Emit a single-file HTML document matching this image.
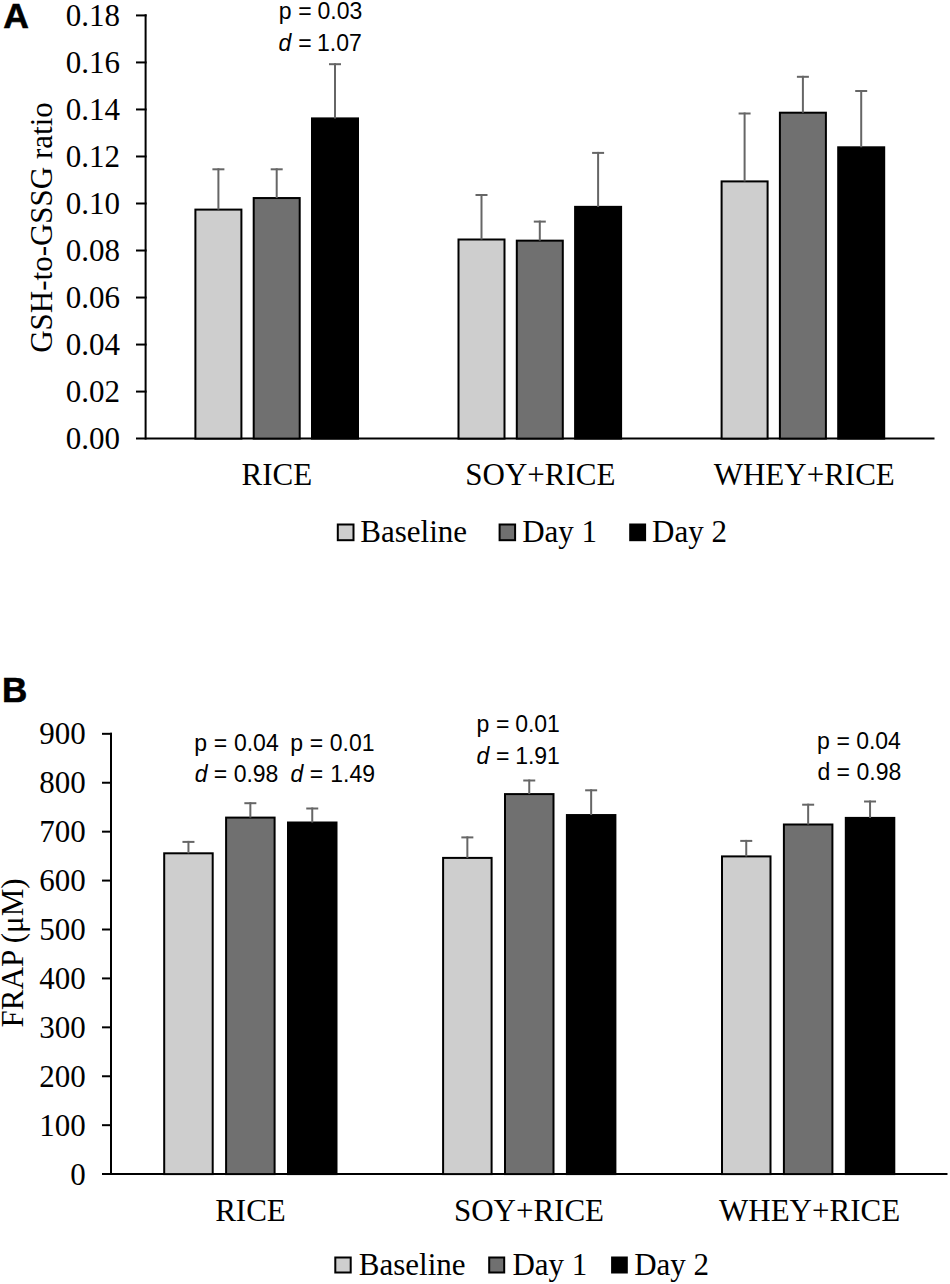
<!DOCTYPE html>
<html><head><meta charset="utf-8"><title>GSH and FRAP chart</title>
<style>
html,body{margin:0;padding:0;background:#fff;}
body{width:950px;height:1284px;overflow:hidden;font-family:"Liberation Serif",serif;}
svg{display:block;}
</style></head><body>
<svg width="950" height="1284" viewBox="0 0 950 1284">
<rect width="950" height="1284" fill="#fff"/>
<line x1="145.6" y1="14.3" x2="145.6" y2="439.60" stroke="#000" stroke-width="2"/>
<line x1="136" y1="438.60" x2="934.5" y2="438.60" stroke="#000" stroke-width="2"/>
<text x="120.10" y="449.00" font-family="Liberation Serif" font-size="31" text-anchor="end" >0.00</text>
<line x1="136" y1="391.58" x2="146.6" y2="391.58" stroke="#000" stroke-width="2"/>
<text x="120.10" y="401.98" font-family="Liberation Serif" font-size="31" text-anchor="end" >0.02</text>
<line x1="136" y1="344.56" x2="146.6" y2="344.56" stroke="#000" stroke-width="2"/>
<text x="120.10" y="354.96" font-family="Liberation Serif" font-size="31" text-anchor="end" >0.04</text>
<line x1="136" y1="297.54" x2="146.6" y2="297.54" stroke="#000" stroke-width="2"/>
<text x="120.10" y="307.94" font-family="Liberation Serif" font-size="31" text-anchor="end" >0.06</text>
<line x1="136" y1="250.52" x2="146.6" y2="250.52" stroke="#000" stroke-width="2"/>
<text x="120.10" y="260.92" font-family="Liberation Serif" font-size="31" text-anchor="end" >0.08</text>
<line x1="136" y1="203.50" x2="146.6" y2="203.50" stroke="#000" stroke-width="2"/>
<text x="120.10" y="213.90" font-family="Liberation Serif" font-size="31" text-anchor="end" >0.10</text>
<line x1="136" y1="156.48" x2="146.6" y2="156.48" stroke="#000" stroke-width="2"/>
<text x="120.10" y="166.88" font-family="Liberation Serif" font-size="31" text-anchor="end" >0.12</text>
<line x1="136" y1="109.46" x2="146.6" y2="109.46" stroke="#000" stroke-width="2"/>
<text x="120.10" y="119.86" font-family="Liberation Serif" font-size="31" text-anchor="end" >0.14</text>
<line x1="136" y1="62.44" x2="146.6" y2="62.44" stroke="#000" stroke-width="2"/>
<text x="120.10" y="72.84" font-family="Liberation Serif" font-size="31" text-anchor="end" >0.16</text>
<line x1="136" y1="15.42" x2="146.6" y2="15.42" stroke="#000" stroke-width="2"/>
<text x="120.10" y="25.82" font-family="Liberation Serif" font-size="31" text-anchor="end" >0.18</text>
<rect x="195.40" y="209.60" width="46.00" height="229.00" fill="#cecece" stroke="#000" stroke-width="2"/>
<rect x="253.70" y="198.05" width="46.00" height="240.55" fill="#707070" stroke="#000" stroke-width="2"/>
<rect x="312.00" y="118.40" width="46.00" height="320.20" fill="#000000" stroke="#000" stroke-width="2"/>
<line x1="218.40" y1="209.60" x2="218.40" y2="168.30" stroke="#666666" stroke-width="2"/>
<line x1="212.40" y1="169.30" x2="224.40" y2="169.30" stroke="#666666" stroke-width="2"/>
<line x1="276.70" y1="198.05" x2="276.70" y2="168.30" stroke="#666666" stroke-width="2"/>
<line x1="270.70" y1="169.30" x2="282.70" y2="169.30" stroke="#666666" stroke-width="2"/>
<line x1="335.00" y1="118.40" x2="335.00" y2="63.20" stroke="#666666" stroke-width="2"/>
<line x1="329.00" y1="64.20" x2="341.00" y2="64.20" stroke="#666666" stroke-width="2"/>
<rect x="458.50" y="239.50" width="46.00" height="199.10" fill="#cecece" stroke="#000" stroke-width="2"/>
<rect x="516.80" y="240.65" width="46.00" height="197.95" fill="#707070" stroke="#000" stroke-width="2"/>
<rect x="575.10" y="206.85" width="46.00" height="231.75" fill="#000000" stroke="#000" stroke-width="2"/>
<line x1="481.50" y1="239.50" x2="481.50" y2="194.00" stroke="#666666" stroke-width="2"/>
<line x1="475.50" y1="195.00" x2="487.50" y2="195.00" stroke="#666666" stroke-width="2"/>
<line x1="539.80" y1="240.65" x2="539.80" y2="220.60" stroke="#666666" stroke-width="2"/>
<line x1="533.80" y1="221.60" x2="545.80" y2="221.60" stroke="#666666" stroke-width="2"/>
<line x1="598.10" y1="206.85" x2="598.10" y2="151.90" stroke="#666666" stroke-width="2"/>
<line x1="592.10" y1="152.90" x2="604.10" y2="152.90" stroke="#666666" stroke-width="2"/>
<rect x="721.60" y="181.40" width="46.00" height="257.20" fill="#cecece" stroke="#000" stroke-width="2"/>
<rect x="779.90" y="112.70" width="46.00" height="325.90" fill="#707070" stroke="#000" stroke-width="2"/>
<rect x="838.20" y="147.30" width="46.00" height="291.30" fill="#000000" stroke="#000" stroke-width="2"/>
<line x1="744.60" y1="181.40" x2="744.60" y2="112.50" stroke="#666666" stroke-width="2"/>
<line x1="738.60" y1="113.50" x2="750.60" y2="113.50" stroke="#666666" stroke-width="2"/>
<line x1="802.90" y1="112.70" x2="802.90" y2="75.80" stroke="#666666" stroke-width="2"/>
<line x1="796.90" y1="76.80" x2="808.90" y2="76.80" stroke="#666666" stroke-width="2"/>
<line x1="861.20" y1="147.30" x2="861.20" y2="90.00" stroke="#666666" stroke-width="2"/>
<line x1="855.20" y1="91.00" x2="867.20" y2="91.00" stroke="#666666" stroke-width="2"/>
<text x="241.60" y="484.70" font-family="Liberation Serif" font-size="31" text-anchor="start" >RICE</text>
<text x="465.30" y="484.70" font-family="Liberation Serif" font-size="31" text-anchor="start" >SOY+RICE</text>
<text x="713.70" y="484.70" font-family="Liberation Serif" font-size="31" text-anchor="start" >WHEY+RICE</text>
<text transform="translate(51.5,351.8) rotate(-90)" x="-1" y="0" font-family="Liberation Serif" font-size="31">GSH-to-GSSG ratio</text>
<rect x="337.80" y="524.50" width="15.70" height="15.70" fill="#cecece" stroke="#000" stroke-width="2"/>
<rect x="499.60" y="524.50" width="15.50" height="15.70" fill="#707070" stroke="#000" stroke-width="2"/>
<rect x="630.20" y="524.50" width="14.90" height="15.70" fill="#000000" stroke="#000" stroke-width="2"/>
<text x="360.30" y="541.70" font-family="Liberation Serif" font-size="31" text-anchor="start" >Baseline</text>
<text x="522.20" y="541.70" font-family="Liberation Serif" font-size="31" text-anchor="start" >Day 1</text>
<text x="652.00" y="541.70" font-family="Liberation Serif" font-size="31" text-anchor="start" >Day 2</text>
<text x="278.70" y="19.30" font-family="Liberation Sans" font-size="23" text-anchor="start" >p</text>
<text x="304.90" y="19.30" font-family="Liberation Sans" font-size="23" text-anchor="middle" >=</text>
<text x="362.30" y="19.30" font-family="Liberation Sans" font-size="23" text-anchor="end" >0.03</text>
<text x="278.60" y="50.50" font-family="Liberation Sans" font-size="23" text-anchor="start" ><tspan font-style="italic">d</tspan></text>
<text x="304.90" y="50.50" font-family="Liberation Sans" font-size="23" text-anchor="middle" >=</text>
<text x="361.80" y="50.50" font-family="Liberation Sans" font-size="23" text-anchor="end" >1.07</text>
<text x="3.30" y="27.60" font-family="Liberation Sans" font-size="35.5" text-anchor="start" font-weight="bold" stroke="#000" stroke-width="0.6">A</text>
<line x1="111" y1="732.82" x2="111" y2="1175.10" stroke="#000" stroke-width="2"/>
<line x1="102" y1="1174.10" x2="947.5" y2="1174.10" stroke="#000" stroke-width="2"/>
<text x="85.80" y="1184.50" font-family="Liberation Serif" font-size="31" text-anchor="end" >0</text>
<line x1="102" y1="1125.18" x2="112" y2="1125.18" stroke="#000" stroke-width="2"/>
<text x="85.80" y="1135.58" font-family="Liberation Serif" font-size="31" text-anchor="end" >100</text>
<line x1="102" y1="1076.26" x2="112" y2="1076.26" stroke="#000" stroke-width="2"/>
<text x="85.80" y="1086.66" font-family="Liberation Serif" font-size="31" text-anchor="end" >200</text>
<line x1="102" y1="1027.34" x2="112" y2="1027.34" stroke="#000" stroke-width="2"/>
<text x="85.80" y="1037.74" font-family="Liberation Serif" font-size="31" text-anchor="end" >300</text>
<line x1="102" y1="978.42" x2="112" y2="978.42" stroke="#000" stroke-width="2"/>
<text x="85.80" y="988.82" font-family="Liberation Serif" font-size="31" text-anchor="end" >400</text>
<line x1="102" y1="929.50" x2="112" y2="929.50" stroke="#000" stroke-width="2"/>
<text x="85.80" y="939.90" font-family="Liberation Serif" font-size="31" text-anchor="end" >500</text>
<line x1="102" y1="880.58" x2="112" y2="880.58" stroke="#000" stroke-width="2"/>
<text x="85.80" y="890.98" font-family="Liberation Serif" font-size="31" text-anchor="end" >600</text>
<line x1="102" y1="831.66" x2="112" y2="831.66" stroke="#000" stroke-width="2"/>
<text x="85.80" y="842.06" font-family="Liberation Serif" font-size="31" text-anchor="end" >700</text>
<line x1="102" y1="782.74" x2="112" y2="782.74" stroke="#000" stroke-width="2"/>
<text x="85.80" y="793.14" font-family="Liberation Serif" font-size="31" text-anchor="end" >800</text>
<line x1="102" y1="733.82" x2="112" y2="733.82" stroke="#000" stroke-width="2"/>
<text x="85.80" y="744.22" font-family="Liberation Serif" font-size="31" text-anchor="end" >900</text>
<rect x="164.20" y="853.30" width="48.50" height="320.80" fill="#cecece" stroke="#000" stroke-width="2"/>
<rect x="226.10" y="817.60" width="48.50" height="356.50" fill="#707070" stroke="#000" stroke-width="2"/>
<rect x="288.00" y="822.50" width="48.50" height="351.60" fill="#000000" stroke="#000" stroke-width="2"/>
<line x1="188.45" y1="853.30" x2="188.45" y2="840.90" stroke="#666666" stroke-width="2"/>
<line x1="182.45" y1="841.90" x2="194.45" y2="841.90" stroke="#666666" stroke-width="2"/>
<line x1="250.35" y1="817.60" x2="250.35" y2="802.20" stroke="#666666" stroke-width="2"/>
<line x1="244.35" y1="803.20" x2="256.35" y2="803.20" stroke="#666666" stroke-width="2"/>
<line x1="312.25" y1="822.50" x2="312.25" y2="807.50" stroke="#666666" stroke-width="2"/>
<line x1="306.25" y1="808.50" x2="318.25" y2="808.50" stroke="#666666" stroke-width="2"/>
<rect x="443.10" y="857.90" width="48.50" height="316.20" fill="#cecece" stroke="#000" stroke-width="2"/>
<rect x="505.00" y="794.10" width="48.50" height="380.00" fill="#707070" stroke="#000" stroke-width="2"/>
<rect x="566.90" y="815.05" width="48.50" height="359.05" fill="#000000" stroke="#000" stroke-width="2"/>
<line x1="467.35" y1="857.90" x2="467.35" y2="836.40" stroke="#666666" stroke-width="2"/>
<line x1="461.35" y1="837.40" x2="473.35" y2="837.40" stroke="#666666" stroke-width="2"/>
<line x1="529.25" y1="794.10" x2="529.25" y2="779.50" stroke="#666666" stroke-width="2"/>
<line x1="523.25" y1="780.50" x2="535.25" y2="780.50" stroke="#666666" stroke-width="2"/>
<line x1="591.15" y1="815.05" x2="591.15" y2="789.30" stroke="#666666" stroke-width="2"/>
<line x1="585.15" y1="790.30" x2="597.15" y2="790.30" stroke="#666666" stroke-width="2"/>
<rect x="722.00" y="856.40" width="48.50" height="317.70" fill="#cecece" stroke="#000" stroke-width="2"/>
<rect x="783.90" y="824.50" width="48.50" height="349.60" fill="#707070" stroke="#000" stroke-width="2"/>
<rect x="845.80" y="817.90" width="48.50" height="356.20" fill="#000000" stroke="#000" stroke-width="2"/>
<line x1="746.25" y1="856.40" x2="746.25" y2="839.90" stroke="#666666" stroke-width="2"/>
<line x1="740.25" y1="840.90" x2="752.25" y2="840.90" stroke="#666666" stroke-width="2"/>
<line x1="808.15" y1="824.50" x2="808.15" y2="803.70" stroke="#666666" stroke-width="2"/>
<line x1="802.15" y1="804.70" x2="814.15" y2="804.70" stroke="#666666" stroke-width="2"/>
<line x1="870.05" y1="817.90" x2="870.05" y2="800.50" stroke="#666666" stroke-width="2"/>
<line x1="864.05" y1="801.50" x2="876.05" y2="801.50" stroke="#666666" stroke-width="2"/>
<text x="215.20" y="1220.70" font-family="Liberation Serif" font-size="31" text-anchor="start" >RICE</text>
<text x="453.90" y="1220.70" font-family="Liberation Serif" font-size="31" text-anchor="start" >SOY+RICE</text>
<text x="719.00" y="1220.70" font-family="Liberation Serif" font-size="31" text-anchor="start" >WHEY+RICE</text>
<text transform="translate(23.3,1026.4) rotate(-90)" x="-1" y="0" font-family="Liberation Serif" font-size="31">FRAP (μM)</text>
<rect x="335.30" y="1257.50" width="15.40" height="15.00" fill="#cecece" stroke="#000" stroke-width="2"/>
<rect x="489.20" y="1257.50" width="15.00" height="15.00" fill="#707070" stroke="#000" stroke-width="2"/>
<rect x="612.10" y="1257.50" width="14.70" height="15.00" fill="#000000" stroke="#000" stroke-width="2"/>
<text x="358.80" y="1274.50" font-family="Liberation Serif" font-size="31" text-anchor="start" >Baseline</text>
<text x="512.40" y="1274.50" font-family="Liberation Serif" font-size="31" text-anchor="start" >Day 1</text>
<text x="634.20" y="1274.50" font-family="Liberation Serif" font-size="31" text-anchor="start" >Day 2</text>
<text x="194.20" y="750.60" font-family="Liberation Sans" font-size="23" text-anchor="start" >p</text>
<text x="220.40" y="750.60" font-family="Liberation Sans" font-size="23" text-anchor="middle" >=</text>
<text x="278.70" y="750.60" font-family="Liberation Sans" font-size="23" text-anchor="end" >0.04</text>
<text x="194.70" y="781.80" font-family="Liberation Sans" font-size="23" text-anchor="start" ><tspan font-style="italic">d</tspan></text>
<text x="220.40" y="781.80" font-family="Liberation Sans" font-size="23" text-anchor="middle" >=</text>
<text x="278.40" y="781.80" font-family="Liberation Sans" font-size="23" text-anchor="end" >0.98</text>
<text x="290.20" y="750.60" font-family="Liberation Sans" font-size="23" text-anchor="start" >p</text>
<text x="316.40" y="750.60" font-family="Liberation Sans" font-size="23" text-anchor="middle" >=</text>
<text x="374.60" y="750.60" font-family="Liberation Sans" font-size="23" text-anchor="end" >0.01</text>
<text x="290.60" y="781.90" font-family="Liberation Sans" font-size="23" text-anchor="start" ><tspan font-style="italic">d</tspan></text>
<text x="316.40" y="781.90" font-family="Liberation Sans" font-size="23" text-anchor="middle" >=</text>
<text x="375.00" y="781.90" font-family="Liberation Sans" font-size="23" text-anchor="end" >1.49</text>
<text x="476.40" y="732.10" font-family="Liberation Sans" font-size="23" text-anchor="start" >p</text>
<text x="502.60" y="732.10" font-family="Liberation Sans" font-size="23" text-anchor="middle" >=</text>
<text x="559.90" y="732.10" font-family="Liberation Sans" font-size="23" text-anchor="end" >0.01</text>
<text x="476.40" y="763.60" font-family="Liberation Sans" font-size="23" text-anchor="start" ><tspan font-style="italic">d</tspan></text>
<text x="502.60" y="763.60" font-family="Liberation Sans" font-size="23" text-anchor="middle" >=</text>
<text x="559.90" y="763.60" font-family="Liberation Sans" font-size="23" text-anchor="end" >1.91</text>
<text x="816.90" y="749.00" font-family="Liberation Sans" font-size="23" text-anchor="start" >p</text>
<text x="843.10" y="749.00" font-family="Liberation Sans" font-size="23" text-anchor="middle" >=</text>
<text x="900.90" y="749.00" font-family="Liberation Sans" font-size="23" text-anchor="end" >0.04</text>
<text x="817.60" y="780.30" font-family="Liberation Sans" font-size="23" text-anchor="start" >d</text>
<text x="843.10" y="780.30" font-family="Liberation Sans" font-size="23" text-anchor="middle" >=</text>
<text x="901.30" y="780.30" font-family="Liberation Sans" font-size="23" text-anchor="end" >0.98</text>
<text x="1.90" y="701.60" font-family="Liberation Sans" font-size="35" text-anchor="start" font-weight="bold" stroke="#000" stroke-width="0.6">B</text>
</svg>
</body></html>
